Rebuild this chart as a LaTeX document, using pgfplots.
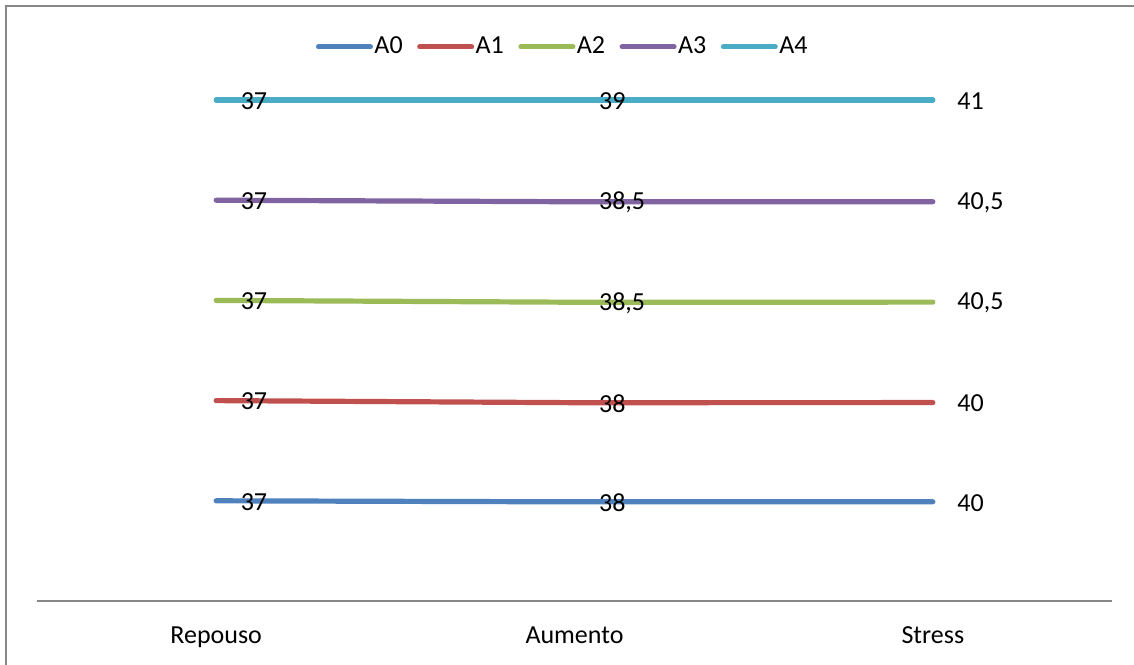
\documentclass[border=0pt]{standalone}
\usepackage{fontspec}
\setmainfont{Carlito}
\usepackage{pgfplots}
\usepackage{pgfplotstable}
\pgfplotsset{compat=1.18}
\definecolor{cA0}{HTML}{4F81BD}
\definecolor{cA1}{HTML}{C0504D}
\definecolor{cA2}{HTML}{9BBB59}
\definecolor{cA3}{HTML}{8064A2}
\definecolor{cA4}{HTML}{4BACC6}
\definecolor{axgray}{HTML}{878787}
\pgfplotstableread{
x A0 A1 A2 A3 A4
0 37 37 37 37 37
1 38 38 38.5 38.5 39
2 40 40 40.5 40.5 41
}\data
% 100% stacked line: cumulative shares
\pgfplotstablecreatecol[create col/expr={100*(\thisrow{A0})/(\thisrow{A0}+\thisrow{A1}+\thisrow{A2}+\thisrow{A3}+\thisrow{A4})}]{S0}\data
\pgfplotstablecreatecol[create col/expr={100*(\thisrow{A0}+\thisrow{A1})/(\thisrow{A0}+\thisrow{A1}+\thisrow{A2}+\thisrow{A3}+\thisrow{A4})}]{S1}\data
\pgfplotstablecreatecol[create col/expr={100*(\thisrow{A0}+\thisrow{A1}+\thisrow{A2})/(\thisrow{A0}+\thisrow{A1}+\thisrow{A2}+\thisrow{A3}+\thisrow{A4})}]{S2}\data
\pgfplotstablecreatecol[create col/expr={100*(\thisrow{A0}+\thisrow{A1}+\thisrow{A2}+\thisrow{A3})/(\thisrow{A0}+\thisrow{A1}+\thisrow{A2}+\thisrow{A3}+\thisrow{A4})}]{S3}\data
\pgfplotstablecreatecol[create col/expr={100}]{S4}\data
\begin{document}
\begin{tikzpicture}[font=\fontsize{13pt}{15pt}\selectfont]
\useasboundingbox (0,0) rectangle (567pt,332pt);
\begin{scope}
\clip (0,0) rectangle (567pt,332pt);
\draw[axgray, line width=1pt] (3pt,-20pt) rectangle (600pt,329pt);
\end{scope}
\begin{axis}[
  at={(18.5pt,31.5pt)}, anchor=south west,
  scale only axis, width=537.5pt, height=250.5pt,
  xmin=-0.5, xmax=2.5, ymin=0, ymax=100,
  clip=false,
  axis x line=bottom, axis y line=none,
  x axis line style={-, draw=axgray, line width=1pt},
  xtick={0,1,2}, xticklabels={Repouso,Aumento,Stress},
  major tick length=0pt,
  xticklabel style={anchor=base, yshift=-21pt},
  /pgf/number format/assume math mode=true,
  point meta=explicit,
  nodes near coords={\pgfmathprintnumber[use comma]{\pgfplotspointmeta}},
  every node near coord/.append style={anchor=west, inner sep=0pt, xshift=11pt, yshift=-0.5pt, text=black},
  every axis plot/.append style={line width=2.6pt, line cap=round, line join=round, mark=none},
  legend columns=5,
  legend image code/.code={\draw[#1, line width=2.5pt, line cap=round] (0pt,0pt) -- (26pt,0pt);},
  legend style={at={(0.5,1)}, anchor=center, yshift=26.5pt, xshift=-6pt, draw=none, fill=none,
    nodes={inner sep=0.75pt},
    /tikz/every even column/.append style={column sep=6.5pt}},
]
\addplot[cA0] table[x=x, y=S0, meta=A0] {\data};
\addplot[cA1] table[x=x, y=S1, meta=A1] {\data};
\addplot[cA2] table[x=x, y=S2, meta=A2] {\data};
\addplot[cA3] table[x=x, y=S3, meta=A3] {\data};
\addplot[cA4] table[x=x, y=S4, meta=A4] {\data};
\legend{A0,A1,A2,A3,A4}
\end{axis}
\end{tikzpicture}
\end{document}
